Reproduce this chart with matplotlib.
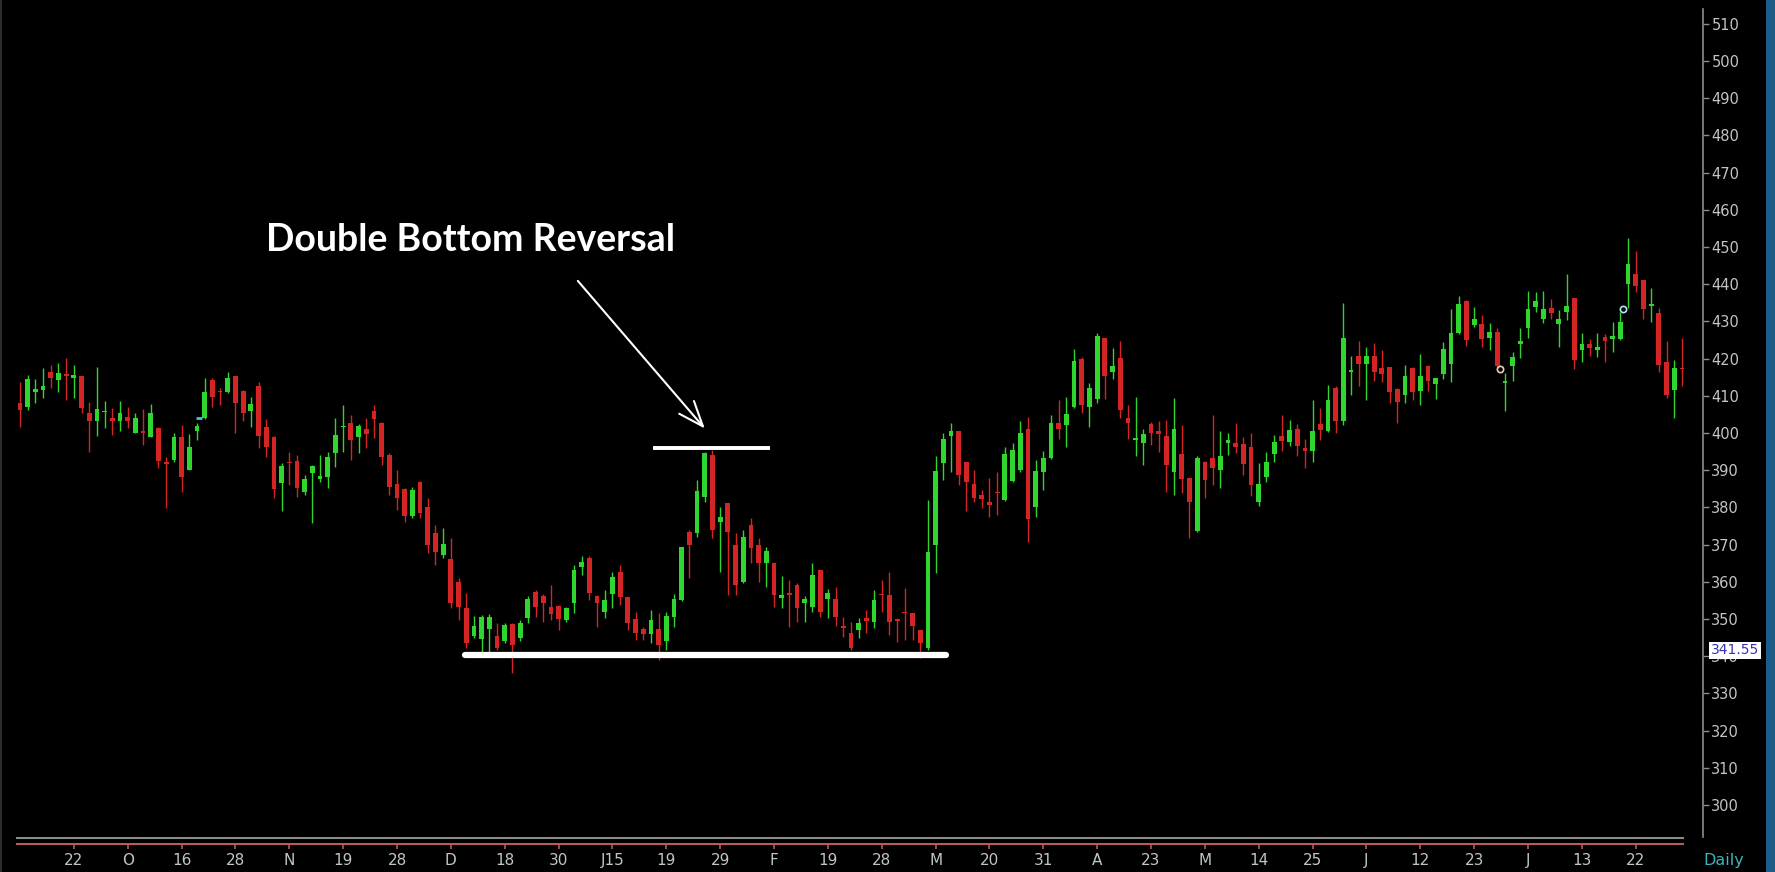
import matplotlib
matplotlib.use('Agg')
import matplotlib.pyplot as plt
from matplotlib.patches import Rectangle
import numpy as np

# daily OHLC
opens = [408.0, 407.1, 410.9, 411.6, 416.5, 414.3, 415.9, 414.7, 415.2, 405.3,
         403.3, 405.7, 404.1, 403.3, 404.2, 400.1, 400.4, 399.0, 401.3, 392.1,
         392.8, 398.8, 390.1, 400.4, 403.9, 414.3, 411.4, 411.1, 415.2, 411.4,
         406.0, 412.5, 401.7, 399.0, 386.6, 392.3, 392.5, 384.2, 389.3, 387.5,
         388.3, 394.5, 401.6, 402.6, 399.0, 401.0, 406.0, 402.8, 394.1, 386.3,
         384.9, 377.7, 386.9, 380.2, 373.0, 367.2, 366.0, 360.0, 352.9, 345.3,
         344.5, 347.2, 345.3, 344.2, 348.7, 344.8, 350.2, 357.3, 356.2, 353.3,
         353.5, 349.7, 354.4, 364.1, 366.3, 356.2, 352.0, 356.7, 362.7, 355.8,
         349.9, 347.3, 346.0, 347.2, 344.2, 350.6, 355.1, 373.5, 373.0, 382.9,
         394.1, 376.2, 381.1, 369.9, 360.0, 375.3, 369.9, 365.0, 365.1, 355.6,
         357.1, 359.1, 354.2, 353.3, 363.2, 355.3, 355.3, 348.1, 346.1, 347.0,
         350.2, 349.3, 356.7, 356.5, 349.9, 352.0, 351.5, 346.9, 342.1, 369.9,
         391.8, 399.3, 400.4, 392.3, 386.2, 383.4, 381.4, 384.1, 382.0, 387.1,
         390.1, 401.1, 380.2, 389.4, 393.4, 402.6, 402.2, 407.1, 419.9, 407.1,
         409.2, 425.5, 416.3, 420.1, 404.1, 398.1, 397.2, 402.3, 400.4, 399.3,
         389.4, 394.3, 387.8, 373.7, 392.3, 393.4, 390.1, 397.2, 397.2, 397.0,
         396.1, 381.5, 388.3, 394.3, 399.3, 397.7, 401.1, 395.9, 395.2, 402.3,
         400.4, 412.2, 403.1, 416.5, 420.8, 418.5, 420.8, 417.4, 417.8, 411.8,
         410.2, 417.4, 411.3, 418.1, 413.1, 415.8, 418.5, 426.8, 435.5, 429.0,
         429.2, 425.6, 427.1, 413.4, 417.9, 423.8, 428.3, 434.0, 430.7, 433.5,
         429.2, 432.5, 436.4, 422.3, 423.8, 422.3, 425.9, 425.3, 425.3, 440.0,
         442.7, 441.1, 434.2, 432.2, 419.2, 411.6, 417.6]
highs = [413.8, 415.6, 414.4, 417.4, 418.3, 418.9, 420.1, 418.3, 415.2, 408.4,
         417.8, 408.7, 406.6, 408.7, 407.1, 405.3, 406.4, 407.8, 401.7, 393.5,
         400.1, 402.2, 399.7, 402.6, 414.7, 414.7, 412.0, 416.5, 415.2, 411.6,
         409.8, 413.8, 403.7, 399.2, 391.9, 395.0, 394.0, 388.7, 391.4, 394.1,
         395.0, 403.9, 407.5, 404.8, 402.4, 403.9, 407.5, 403.0, 394.5, 390.1,
         385.1, 385.4, 387.2, 382.4, 375.3, 374.4, 371.7, 360.9, 356.9, 350.8,
         351.1, 351.4, 349.0, 349.0, 348.8, 349.6, 356.2, 357.8, 356.7, 359.1,
         353.8, 353.3, 364.5, 366.8, 366.8, 356.5, 357.8, 362.7, 364.5, 356.0,
         352.0, 347.9, 352.4, 351.7, 352.0, 356.7, 369.4, 373.9, 387.4, 395.0,
         395.3, 380.2, 381.1, 373.0, 373.9, 377.1, 371.7, 369.4, 365.4, 361.6,
         360.5, 359.6, 356.2, 365.0, 363.2, 358.0, 358.5, 350.6, 349.3, 350.2,
         352.4, 357.8, 360.5, 362.7, 350.2, 358.3, 351.5, 347.0, 382.0, 393.8,
         400.1, 402.6, 400.4, 392.3, 390.1, 384.7, 387.8, 389.6, 396.3, 397.2,
         403.2, 404.4, 392.7, 395.2, 404.8, 408.9, 409.8, 422.6, 420.5, 413.4,
         426.8, 425.5, 422.8, 424.6, 407.5, 409.8, 401.1, 402.9, 403.1, 403.5,
         409.3, 402.2, 388.0, 393.9, 392.5, 404.8, 400.4, 399.9, 402.6, 399.0,
         399.9, 391.9, 395.0, 399.5, 404.9, 403.5, 402.3, 398.4, 408.9, 406.6,
         412.9, 412.5, 434.9, 420.8, 424.6, 423.0, 424.1, 422.3, 417.8, 412.0,
         418.3, 417.8, 421.2, 418.3, 414.7, 424.4, 433.3, 436.9, 435.8, 434.0,
         431.6, 429.5, 428.1, 416.1, 421.7, 428.3, 438.2, 437.8, 438.2, 436.0,
         433.1, 442.7, 436.4, 426.8, 425.3, 426.8, 426.5, 429.9, 432.5, 452.3,
         448.9, 441.1, 438.9, 433.7, 424.8, 419.6, 425.6]
lows = [401.7, 406.2, 408.0, 409.3, 412.0, 411.1, 408.9, 409.3, 405.3, 395.0,
        399.2, 401.3, 399.5, 400.6, 401.3, 399.9, 396.8, 398.8, 390.5, 379.8,
        392.3, 384.0, 390.1, 398.1, 403.7, 407.1, 407.5, 410.7, 399.9, 403.1,
        401.5, 395.9, 393.6, 382.4, 378.9, 386.0, 382.9, 383.3, 375.7, 386.9,
        385.1, 390.9, 395.0, 392.7, 394.5, 395.9, 398.6, 391.4, 383.3, 379.3,
        376.2, 377.1, 377.1, 367.7, 364.5, 366.3, 352.9, 349.7, 342.1, 344.8,
        340.8, 340.8, 341.7, 343.5, 335.4, 344.2, 348.8, 350.6, 349.3, 349.7,
        347.0, 349.3, 351.5, 361.8, 355.1, 347.9, 350.2, 352.9, 353.8, 347.0,
        344.4, 344.4, 343.5, 339.0, 341.7, 347.9, 354.7, 360.9, 372.1, 381.5,
        371.7, 362.7, 356.5, 356.5, 359.6, 365.0, 360.0, 358.7, 353.3, 352.9,
        347.8, 349.3, 349.3, 352.0, 350.6, 350.2, 348.0, 345.1, 341.7, 344.8,
        346.1, 347.5, 352.0, 345.7, 343.9, 344.4, 344.4, 339.4, 341.7, 362.3,
        387.4, 389.6, 386.0, 378.9, 381.5, 379.8, 377.5, 378.0, 381.6, 386.9,
        389.6, 370.8, 377.5, 384.7, 393.0, 398.4, 396.3, 406.8, 405.3, 401.7,
        408.0, 409.2, 414.5, 404.0, 398.4, 393.9, 391.4, 396.8, 394.8, 384.2,
        383.3, 383.8, 371.7, 373.5, 382.4, 386.0, 385.1, 394.1, 394.6, 388.7,
        383.0, 380.5, 386.9, 392.1, 395.2, 396.6, 393.7, 390.7, 392.3, 398.1,
        400.2, 399.9, 402.2, 410.2, 412.5, 408.9, 414.0, 413.6, 408.0, 402.6,
        408.0, 408.9, 407.5, 411.3, 409.2, 414.5, 413.6, 426.5, 423.5, 428.6,
        423.0, 422.3, 417.4, 405.9, 414.0, 420.1, 425.5, 432.5, 429.5, 430.7,
        423.0, 430.4, 417.2, 419.2, 420.8, 420.5, 419.2, 421.9, 425.0, 433.7,
        438.0, 430.7, 429.9, 416.3, 409.3, 404.1, 412.5]
closes = [406.2, 414.4, 411.8, 412.5, 414.7, 416.2, 415.3, 415.6, 406.6, 403.3,
          406.4, 406.0, 403.3, 405.5, 403.3, 403.9, 400.0, 405.3, 392.6, 391.7,
          398.8, 388.3, 396.2, 401.9, 411.1, 409.8, 410.9, 414.7, 408.0, 405.3,
          407.8, 399.2, 396.3, 384.9, 391.1, 391.9, 385.2, 387.5, 391.1, 388.4,
          393.5, 399.5, 401.9, 398.1, 401.9, 399.7, 403.7, 393.6, 385.6, 382.4,
          377.7, 384.7, 378.4, 369.9, 368.1, 370.2, 354.2, 353.1, 343.5, 348.0,
          350.5, 350.5, 342.1, 348.4, 343.0, 348.8, 355.3, 353.3, 354.4, 351.3,
          349.9, 352.9, 363.2, 365.2, 357.1, 354.4, 355.1, 361.4, 355.8, 349.0,
          346.3, 346.0, 349.6, 343.0, 350.8, 355.3, 369.4, 369.9, 384.4, 394.5,
          373.9, 377.5, 373.5, 359.2, 372.0, 369.0, 365.0, 368.4, 356.5, 356.5,
          356.5, 352.9, 355.3, 361.8, 352.0, 356.9, 350.6, 347.5, 342.1, 348.8,
          349.5, 355.1, 356.5, 349.3, 349.5, 351.7, 348.1, 343.5, 368.1, 389.9,
          398.3, 400.4, 388.7, 386.7, 382.6, 382.3, 380.7, 383.8, 394.3, 395.4,
          399.9, 376.9, 389.8, 393.4, 402.6, 401.1, 405.0, 419.4, 407.5, 412.2,
          426.2, 415.4, 418.1, 406.2, 402.6, 398.6, 399.6, 399.9, 399.6, 391.4,
          401.1, 387.6, 381.4, 393.4, 387.4, 390.5, 393.9, 398.1, 396.3, 391.6,
          386.0, 386.2, 392.3, 397.7, 397.9, 400.8, 396.6, 395.2, 400.4, 400.8,
          408.9, 403.2, 425.6, 417.0, 418.5, 420.8, 416.5, 415.8, 411.0, 408.4,
          415.4, 411.0, 415.2, 414.0, 414.7, 422.6, 426.8, 434.6, 425.0, 430.7,
          425.3, 427.1, 417.9, 414.0, 420.3, 424.7, 433.3, 435.5, 433.3, 432.2,
          430.7, 434.2, 419.6, 423.8, 422.8, 423.2, 424.7, 426.2, 429.9, 445.4,
          439.6, 433.3, 434.7, 418.3, 410.2, 417.6, 417.2]

date_labels = ['22', 'O', '16', '28', 'N', '19', '28', 'D', '18', '30', 'J15', '19',
               '29', 'F', '19', '28', 'M', '20', '31', 'A', '23', 'M', '14', '25',
               'J', '12', '23', 'J', '13', '22']
label_step = 7  # bars between date labels

# small event markers on the chart
marker_idx = [23.3, 192.4, 208.3]
marker_price = [404.0, 417.1, 433.3]
marker_color = ['#40c8d8', '#e8d0b0', '#b0e8f0']
marker_shape = ['_', 'o', 'o']

# pattern annotation
support_level = 340.4
support_span = (57.8, 120.4)
peak_level = 396.0
peak_span = (82.3, 97.5)
last_price = 341.55

UP = '#2ed62e'
DOWN = '#d42424'
BG = 'black'

fig = plt.figure(figsize=(17.75, 8.72), dpi=100, facecolor=BG)
W, H = 1775.0, 872.0
ax = fig.add_axes([0, 35 / H, 1703 / W, 828 / H], facecolor=BG)
ax2 = fig.add_axes([0, 0, 1703 / W, 35 / H], facecolor=BG)

o = np.array(opens)
h = np.array(highs)
l = np.array(lows)
c = np.array(closes)
x = np.arange(len(o))
up = c >= o
cols = np.where(up, UP, DOWN)

ax.vlines(x, l, h, colors=cols, linewidth=1.0, zorder=2)
body_lo = np.minimum(o, c)
body_h = np.maximum(np.abs(c - o), 0.25)
ax.bar(x, body_h, bottom=body_lo, width=0.62, color=cols, linewidth=0, zorder=3)

for mx, my, mc, ms in zip(marker_idx, marker_price, marker_color, marker_shape):
    if ms == 'o':
        ax.plot(mx, my, ms, markersize=4.5, markerfacecolor='none',
                markeredgecolor=mc, markeredgewidth=1.2, zorder=4)
    else:
        ax.plot(mx, my, ms, markersize=5, color=mc, markeredgewidth=2, zorder=4)

# white pattern lines
ax.plot(support_span, [support_level, support_level], color='white',
        linewidth=4.5, solid_capstyle='round', zorder=5)
ax.plot(peak_span, [peak_level, peak_level], color='white',
        linewidth=2.8, solid_capstyle='butt', zorder=5)
ax.annotate('', xy=(89.0, 401.2), xytext=(72.5, 440.9),
            arrowprops=dict(arrowstyle='->,head_length=0.9,head_width=0.35',
                            color='white', lw=1.5, mutation_scale=20,
                            shrinkA=0, shrinkB=0), zorder=6)
ax.text(32.0, 448.8, 'Double Bottom Reversal', color='white',
        fontsize=27, fontweight='bold', family=['Lato', 'DejaVu Sans'],
        va='baseline', ha='left', zorder=6)

ax.set_xlim(-2.6, 218.74)
ax.set_ylim(291.37, 514.0)
for s in ['top', 'left', 'bottom']:
    ax.spines[s].set_visible(False)
ax.spines['right'].set_color('#8c8c8c')
ax.spines['right'].set_linewidth(1.2)
ax.set_xticks([])
ax.set_yticks(np.arange(300, 511, 10))
ax.yaxis.tick_right()
ax.tick_params(axis='y', direction='out', length=4, width=1, color='#8c8c8c',
               labelcolor='#c4c4c4', labelsize=10.5, pad=2)

# last price box
ax.text(1.0045, last_price, f'{last_price:.2f}', transform=ax.get_yaxis_transform(),
        color='#3535b5', fontsize=10, va='center', ha='left', zorder=10,
        bbox=dict(boxstyle='square,pad=0.12', facecolor='white', edgecolor='none'),
        clip_on=False)

# date strip
ax2.set_xlim(ax.get_xlim())
ax2.set_ylim(35, 0)
ax2.axis('off')
ax2.plot([x[0] - 0.4, x[-1] + 0.2], [0.8, 0.8], color='#8a8a8a', linewidth=1.5)
ax2.plot([x[0] - 0.4, x[-1] + 0.2], [6.5, 6.5], color='#b85a5a', linewidth=1.5)
tick_pos = label_step * np.arange(1, len(date_labels) + 1)
ax2.vlines(tick_pos, 6.5, 11.5, colors='#b85a5a', linewidth=1.2)
for p, lab in zip(tick_pos, date_labels):
    ax2.text(p, 23, lab, color='#c4c4c4', fontsize=11, ha='center', va='center',
             family=['Liberation Sans Narrow', 'DejaVu Sans'])
ax2.text(1.0, 23, 'Daily', transform=ax2.get_yaxis_transform(),
         color='#3cb4bc', fontsize=11.5, ha='left', va='center', clip_on=False)

# frame decorations
fig.add_artist(Rectangle((1766 / W, 0), 9 / W, 1, transform=fig.transFigure,
                         facecolor='#1d5b8b', edgecolor='none'))
fig.add_artist(Rectangle((0, 0), 2 / W, 1, transform=fig.transFigure,
                         facecolor='#2c2c2c', edgecolor='none'))

fig.savefig('out.png', dpi=100, facecolor=BG)
